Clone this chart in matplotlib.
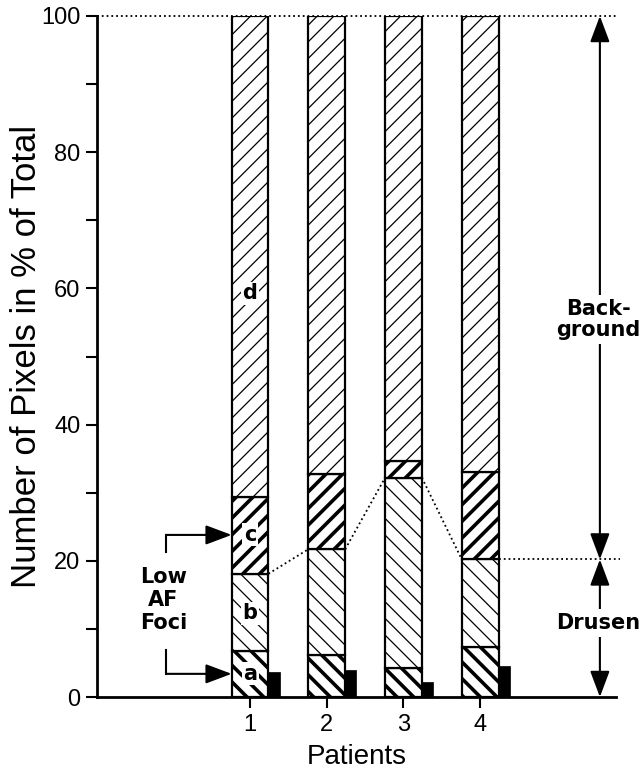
import matplotlib
matplotlib.use("Agg")
import matplotlib.pyplot as plt
import numpy as np
from matplotlib.patches import ArrowStyle

# ---- data (percent of total pixels) ----
patients = [1, 2, 3, 4]
seg_a = [6.7, 6.1, 4.2, 7.3]       # low AF foci a
seg_b = [11.4, 15.6, 28.0, 12.9]   # low AF foci b
seg_c = [11.2, 11.0, 2.5, 12.8]    # c
seg_d = [70.7, 67.3, 65.3, 67.0]   # d (background)
drusen_small = [3.6, 4.0, 2.2, 4.6]  # small solid bars
yticks = [0, 20, 40, 60, 80, 100]

plt.rcParams['font.family'] = ['Liberation Sans', 'DejaVu Sans']

fig = plt.figure(figsize=(6.41, 7.78), dpi=100)
ax = fig.add_axes([97/641, (778-697)/778, (616-97)/641, (697-16)/778])

x = np.array(patients, dtype=float)
w = 0.48
bw = 0.145

segs = [seg_a, seg_b, seg_c, seg_d]
hatches = ['\\\\', '\\\\', '//', '//']
hlw = [2.6, 0.9, 2.6, 0.9]
bottom = np.zeros(4)
for vals, h, lw in zip(segs, hatches, hlw):
    with plt.rc_context({'hatch.linewidth': lw}):
        ax.bar(x, vals, width=w, bottom=bottom, facecolor='white',
               edgecolor='black', linewidth=1.6, hatch=h, zorder=3)
    bottom = bottom + np.array(vals)

ax.bar(x + w/2 + bw/2, drusen_small, width=bw, color='black',
       edgecolor='black', linewidth=0.5, zorder=3)

# dotted lines
top_b = np.array(seg_a) + np.array(seg_b)
for i in range(3):
    ax.plot([x[i] + w/2, x[i+1] - w/2], [top_b[i], top_b[i+1]],
            ls=':', color='black', lw=1.3, zorder=2)
ax.plot([-0.995, 5.77], [100, 100],
        ls=':', color='black', lw=1.3, zorder=1, clip_on=False)
ax.plot([x[3] + w/2, 5.82], [top_b[3], top_b[3]],
        ls=':', color='black', lw=1.3, zorder=1, clip_on=False)

ax.set_xlim(-0.995, 5.77)
ax.set_ylim(0, 100)

# labels inside bar 1
lab_kw = dict(ha='center', va='center', fontsize=15, fontweight='bold',
              family='DejaVu Sans', zorder=5)
box = dict(facecolor='white', edgecolor='none', pad=1.0)
ax.text(x[0], 59.3, 'd', bbox=box, **lab_kw)
ax.text(x[0], 23.8, 'c', bbox=box, **lab_kw)
ax.text(x[0], 12.3, 'b', bbox=box, **lab_kw)
ax.text(x[0], 3.4, 'a', bbox=box, **lab_kw)

# Low AF Foci bracket
arrst = ArrowStyle('-|>', head_length=1.6, head_width=0.6)
bx = -0.095
ax.plot([bx, bx], [21.3, 23.8], color='black', lw=1.5, zorder=4)
ax.annotate('', xy=(x[0] - w/2, 23.8), xytext=(bx, 23.8),
            arrowprops=dict(arrowstyle=arrst, color='black', lw=1.5,
                            shrinkA=0, shrinkB=0, mutation_scale=10))
ax.plot([bx, bx], [3.4, 6.9], color='black', lw=1.5, zorder=4)
ax.annotate('', xy=(x[0] - w/2, 3.4), xytext=(bx, 3.4),
            arrowprops=dict(arrowstyle=arrst, color='black', lw=1.5,
                            shrinkA=0, shrinkB=0, mutation_scale=10))
ax.text(-0.13, 14.2, 'Low\nAF\nFoci', ha='center', va='center',
        fontsize=15, fontweight='bold', family='DejaVu Sans',
        linespacing=1.2)

# right side double arrows
ax_x = 5.56
dbl = ArrowStyle('<|-|>', head_length=1.6, head_width=0.6)
ax.annotate('', xy=(ax_x, 100), xytext=(ax_x, top_b[3]),
            arrowprops=dict(arrowstyle=dbl, color='black', lw=1.5,
                            shrinkA=0, shrinkB=0, mutation_scale=10),
            annotation_clip=False)
ax.annotate('', xy=(ax_x, top_b[3]), xytext=(ax_x, 0),
            arrowprops=dict(arrowstyle=dbl, color='black', lw=1.5,
                            shrinkA=0, shrinkB=0, mutation_scale=10),
            annotation_clip=False)
ax.text(5.54, 55.4, 'Back-\nground', ha='center', va='center',
        fontsize=15, fontweight='bold', family='DejaVu Sans',
        linespacing=1.05, zorder=6,
        bbox=dict(facecolor='white', edgecolor='none', pad=3))
ax.text(5.54, 10.9, 'Drusen', ha='center', va='center',
        fontsize=15, fontweight='bold', family='DejaVu Sans', zorder=6,
        bbox=dict(facecolor='white', edgecolor='none', pad=3))

# axes styling
for s in ['top', 'right']:
    ax.spines[s].set_visible(False)
ax.spines['left'].set_linewidth(2.0)
ax.spines['bottom'].set_linewidth(2.0)
ax.set_yticks(yticks)
ax.set_yticks([10, 30, 50, 70, 90], minor=True)
ax.set_xticks(patients)
ax.tick_params(axis='y', which='both', direction='out', length=8, width=1.5,
               labelsize=17, pad=4)
ax.tick_params(axis='x', direction='out', length=8, width=1.5,
               labelsize=17, pad=4)
ax.set_ylabel('Number of Pixels in % of Total', fontsize=25)
ax.yaxis.set_label_coords(-0.104, 0.5)
ax.set_xlabel('Patients', fontsize=20, labelpad=6)

fig.savefig('out.png', dpi=100)
